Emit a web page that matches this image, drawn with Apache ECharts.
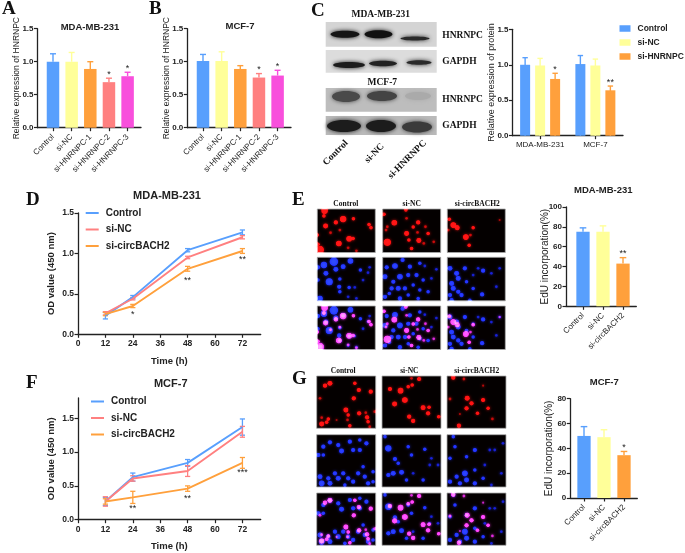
<!DOCTYPE html>
<html><head><meta charset="utf-8">
<style>html,body{margin:0;padding:0;background:#fff}#c{width:685px;height:553px}</style>
<script src="https://cdn.jsdelivr.net/npm/echarts@6/dist/echarts.min.js"></script>
</head><body><div id="c"></div>
<script>
const BLUE='#589FFD',YEL='#FFFF99',ORG='#FFA03C',SAL='#FF8080',MAG='#F84FDC',INK='#222';
const SANS='"Liberation Sans",Arial,sans-serif',SERIF='"Liberation Serif","Times New Roman",serif';

// Panel A / B
const siCats=['Control','si-NC','si-HNRNPC-1','si-HNRNPC-2','si-HNRNPC-3'];
const aVals=[1.0,1.0,0.89,0.69,0.78];
const aTops=[1.12,1.14,1.0,0.75,0.84];
const aStars=['','','','*','*'];
const bVals=[1.01,1.01,0.89,0.76,0.79];
const bTops=[1.11,1.15,0.94,0.82,0.87];
const bStars=['','','','*','*'];
// Panel C
const cCats=['MDA-MB-231','MCF-7'];
const cNames=['Control','si-NC','si-HNRNPC'];
const cControl=[1.0,1.01],cControlTop=[1.10,1.13];
const cNC=[0.99,0.99],cNCTop=[1.09,1.08];
const cSi=[0.80,0.64],cSiTop=[0.88,0.70];
const cStars=['*','**'];
// Panels D / F
const hours=[12,24,48,72];
const lineNames=['Control','si-NC','si-circBACH2'];
const dControl=[0.23,0.46,1.04,1.26],dControlErr=[0.04,0.02,0.02,0.03];
const dNC=[0.26,0.44,0.95,1.20],dNCErr=[0.02,0.015,0.015,0.02];
const dCirc=[0.25,0.35,0.81,1.03],dCircErr=[0.02,0.02,0.03,0.03];
const dStars=[['',0],['*',0.24],['**',0.67],['**',0.92]];
const fControl=[0.27,0.63,0.84,1.37],fControlErr=[0.06,0.06,0.05,0.12];
const fNC=[0.27,0.61,0.72,1.30],fNCErr=[0.07,0.04,0.08,0.08];
const fCirc=[0.27,0.33,0.46,0.84],fCircErr=[0.04,0.09,0.04,0.08];
const fStars=[['',0],['**',0.17],['**',0.32],['***',0.70]];
// Panels E / G
const eduCats=['Control','si-NC','si-circBACH2'];
const eVals=[75,75,43],eTops=[79,81,49],eStars=['','','**'];
const gVals=[50,49,34.5],gTops=[57.5,55,37.5],gStars=['','','*'];

// Fluorescent nuclei as seen in the micrographs [x, y, size], read relative to the crop
const eRed=[
 [[44,92,9],[42,108,5],[78,127,6],[100,117,9],[131,116,5],[47,138,7],[178,133,5],[184,143,5],[90,150,4],[62,158,4],[130,175,5],[118,176,8],[87,190,8],[30,209,11],[115,203,4],[140,212,4],[22,165,5],[24,192,5]],
 [[288,90,5],[222,103,5],[253,128,8],[325,127,6],[290,115,4],[232,140,4],[310,141,5],[347,140,4],[290,160,7],[323,157,4],[232,186,10],[327,181,7],[297,180,5],[342,190,4],[305,205,5],[372,185,4],[355,160,5],[228,150,4]],
 [[418,118,5],[430,135,8],[442,143,7],[490,143,5],[482,165,4],[468,171,8],[478,195,5],[415,150,4],[570,120,3]]
];
const eBlue=[
 [[42,255,9],[72,245,12],[122,243,8],[24,262,6],[48,280,7],[100,260,7],[78,268,7],[58,305,10],[152,270,5],[90,297,5],[88,320,6],[160,300,4],[118,322,5],[135,322,4],[90,335,5],[30,355,8],[115,350,4],[140,355,4],[180,262,4],[175,278,4],[24,300,5]],
 [[278,240,6],[230,262,6],[255,258,8],[300,260,6],[330,250,5],[345,258,4],[380,268,4],[225,290,7],[250,305,6],[270,290,8],[295,285,6],[320,285,6],[340,300,5],[365,295,4],[225,350,6],[245,325,6],[265,325,7],[285,325,6],[310,315,5],[330,330,5],[355,335,5],[270,355,6],[325,355,5],[295,345,5],[238,340,5]],
 [[420,265,7],[440,280,7],[465,265,6],[520,272,6],[490,285,4],[570,265,4],[425,310,7],[445,295,7],[470,305,5],[430,325,7],[445,335,6],[420,345,6],[455,345,6],[490,325,5],[517,343,6],[480,360,5],[425,360,6],[545,280,4],[560,320,4],[505,265,4]]
];
const gRed=[
 [[45,62,6],[60,55,7],[30,100,4],[108,135,7],[115,150,5],[113,165,4],[148,145,6],[172,157,6],[175,170,5],[35,177,7],[55,162,5],[50,172,5],[120,182,5],[35,158,4],[135,55,5],[147,75,6],[183,80,6],[132,100,6],[168,143,4],[195,140,4],[180,185,4],[80,165,3]],
 [[240,72,6],[272,77,8],[295,65,5],[307,60,5],[285,105,8],[254,117,7],[340,128,7],[358,127,5],[355,145,6],[298,155,6],[310,168,6],[387,155,5],[328,42,6],[305,40,4]],
 [[430,38,6],[462,42,4],[472,100,7],[485,115,6],[420,102,4],[520,105,6],[535,130,5],[470,130,6],[503,145,5],[548,162,4],[447,182,6],[450,147,3],[520,62,3]]
];
const gBlue=[
 [[40,245,6],[60,232,6],[85,240,6],[95,258,7],[120,230,6],[150,225,5],[130,255,6],[150,255,6],[170,235,6],[25,270,6],[160,305,5],[40,270,5],[30,335,7],[55,340,6],[35,355,8],[60,355,7],[85,340,7],[100,325,6],[115,340,6],[130,350,6],[145,325,6],[165,335,6],[190,320,5],[75,325,6],[175,355,6],[190,350,5],[105,360,5]],
 [[235,250,9],[255,282,6],[265,295,5],[345,253,5],[305,270,5],[295,245,5],[365,280,4],[385,300,4],[235,330,6],[250,325,7],[275,322,7],[290,345,5],[340,345,5],[360,300,4],[310,325,4],[225,215,5]],
 [[430,215,5],[470,275,5],[495,255,6],[420,280,5],[540,255,4],[555,255,4],[580,235,4],[435,245,5],[465,325,8],[470,345,7],[440,335,6],[495,315,5],[420,350,6],[450,355,6],[520,340,5],[545,360,4],[575,325,4],[495,355,6],[525,300,4]]
];

const grid=[],xAxis=[],yAxis=[],series=[],title=[],graphic=[],legend=[];

function axisCommon(){return {
  axisLine:{show:true,onZero:false,lineStyle:{color:INK,width:1.3}},
  axisTick:{show:true,length:3.5,lineStyle:{color:INK,width:1.2}},
  splitLine:{show:false}
};}
function errSeries(gi,rows,color,cap){
  series.push({type:'custom',xAxisIndex:gi,yAxisIndex:gi,silent:true,z:1,data:rows,
    renderItem(p,api){
      const x=api.value(0),a=api.coord([x,api.value(1)]),b=api.coord([x,api.value(2)]);
      const st={stroke:color,lineWidth:1.3,fill:null};
      return {type:'group',children:[
        {type:'line',shape:{x1:a[0],y1:a[1],x2:b[0],y2:b[1]},style:st},
        {type:'line',shape:{x1:a[0]-cap,y1:b[1],x2:a[0]+cap,y2:b[1]},style:st},
        {type:'line',shape:{x1:a[0]-cap,y1:a[1],x2:a[0]+cap,y2:a[1]},style:st}
      ]};
    }});
}
function starSeries(gi,rows){ // rows: [x,y,text]
  series.push({type:'custom',xAxisIndex:gi,yAxisIndex:gi,silent:true,z:5,
    data:rows.map(r=>[r[0],r[1]]),
    renderItem(p,api){
      const c=api.coord([api.value(0),api.value(1)]);
      return {type:'text',x:c[0],y:c[1],style:{text:rows[p.dataIndex][2],align:'center',verticalAlign:'middle',fontSize:9,fontFamily:SANS,fill:INK}};
    }});
}
function barPanel(o){
  const gi=grid.length;
  grid.push({left:o.left,top:o.top,width:o.right-o.left,height:o.bottom-o.top});
  const idx=o.cats.map((c,i)=>i);
  const min=-(o.first-o.left)/o.step,max=(o.right-o.first)/o.step;
  const ax=axisCommon();
  xAxis.push({...ax,gridIndex:gi,type:'value',min,max,
    axisTick:{...ax.axisTick,customValues:idx},
    axisLabel:{customValues:idx,rotate:45,margin:8,fontSize:o.catFont||8,fontFamily:SANS,color:INK,formatter:v=>o.cats[v]}});
  yAxis.push({...ax,gridIndex:gi,type:'value',min:0,max:o.max,interval:o.interval,name:o.yName,nameLocation:'middle',nameGap:o.nameGap,nameMoveOverlap:false,
    nameTextStyle:{fontSize:o.nameFont,fontFamily:SANS,color:INK},
    axisLabel:{margin:4,fontSize:8,fontWeight:'bold',fontFamily:SANS,color:INK,formatter:v=>o.max<10?v.toFixed(1):String(v)}});
  errSeries(gi,idx.map(i=>[i,o.vals[i],o.tops[i]]),null,0);
  series[series.length-1].renderItem=(p,api)=>{
    const i=p.dataIndex,x=api.value(0),a=api.coord([x,api.value(1)]),b=api.coord([x,api.value(2)]);
    const st={stroke:o.colors[i],lineWidth:1.4,fill:null};
    return {type:'group',children:[
      {type:'line',shape:{x1:a[0],y1:a[1],x2:b[0],y2:b[1]},style:st},
      {type:'line',shape:{x1:a[0]-o.cap,y1:b[1],x2:a[0]+o.cap,y2:b[1]},style:st}]};
  };
  series.push({type:'bar',xAxisIndex:gi,yAxisIndex:gi,barWidth:o.barWidth,z:2,
    data:idx.map(i=>({value:[i,o.vals[i]],itemStyle:{color:o.colors[i]}}))});
  starSeries(gi,idx.filter(i=>o.stars[i]).map(i=>[i,o.tops[i]+o.max*0.04,o.stars[i]]));
  title.push({text:o.title,left:o.titleX,top:o.titleY,padding:0,textAlign:'center',textVerticalAlign:'middle',
    textStyle:{fontSize:o.titleFont||9.5,fontWeight:'bold',fontFamily:SANS,color:INK}});
}
function linePanel(o){
  const gi=grid.length;
  grid.push({left:78,top:o.top,width:182.7,height:o.bottom-o.top});
  const ax=axisCommon();
  const xt=[0,12,24,36,48,60,72];
  xAxis.push({...ax,gridIndex:gi,type:'value',min:0,max:80,name:'Time (h)',nameLocation:'middle',nameGap:22,
    nameTextStyle:{fontSize:9.5,fontWeight:'bold',fontFamily:SANS,color:INK},
    axisTick:{...ax.axisTick,customValues:xt},
    axisLabel:{customValues:xt,margin:5,fontSize:8.5,fontWeight:'bold',fontFamily:SANS,color:INK}});
  const yt=[0,0.5,1,1.5];
  yAxis.push({...ax,gridIndex:gi,type:'value',min:0,max:o.max,name:'OD value (450 nm)',nameLocation:'middle',nameGap:22,nameMoveOverlap:false,
    nameTextStyle:{fontSize:9.5,fontWeight:'bold',fontFamily:SANS,color:INK},
    axisTick:{...ax.axisTick,customValues:yt},
    axisLabel:{customValues:yt,margin:4,fontSize:8.5,fontWeight:'bold',fontFamily:SANS,color:INK,formatter:v=>v.toFixed(1)}});
  o.sets.forEach((s,k)=>{
    errSeries(gi,hours.map((h,i)=>[h,s.v[i]-s.e[i],s.v[i]+s.e[i]]),s.c,2.6);
    series.push({type:'line',name:lineNames[k],xAxisIndex:gi,yAxisIndex:gi,z:3,symbol:'none',
      lineStyle:{color:s.c,width:1.9},itemStyle:{color:s.c},data:hours.map((h,i)=>[h,s.v[i]])});
  });
  starSeries(gi,o.stars.map((s,i)=>[hours[i],s[1],s[0]]).filter(r=>r[2]));
  title.push({text:o.title,left:o.titleX,top:o.titleY,padding:0,textAlign:'center',textVerticalAlign:'middle',
    textStyle:{fontSize:11,fontWeight:'bold',fontFamily:SANS,color:INK}});
  legend.push({orient:'vertical',left:o.legX,top:o.legY,itemWidth:13,itemHeight:2,itemGap:o.legGap,padding:0,selectedMode:false,
    textStyle:{fontSize:10,fontFamily:SANS,fontWeight:'bold',color:INK,padding:[0,0,0,2]},
    data:lineNames.map((n,k)=>({name:n,icon:'rect',itemStyle:{color:o.sets[k].c}}))});
}
barPanel({left:37.5,right:141,top:28.7,bottom:127.7,first:53,step:18.65,cats:siCats,vals:aVals,tops:aTops,stars:aStars,
  colors:[BLUE,YEL,ORG,SAL,MAG],max:1.5,interval:0.5,barWidth:12.5,cap:3,yName:'Relative expression of HNRNPC',nameGap:16,nameFont:8.5,
  title:'MDA-MB-231',titleX:90,titleY:27});
barPanel({left:187.3,right:291,top:28.7,bottom:127.7,first:203,step:18.65,cats:siCats,vals:bVals,tops:bTops,stars:bStars,
  colors:[BLUE,YEL,ORG,SAL,MAG],max:1.5,interval:0.5,barWidth:12.5,cap:3,yName:'Relative expression of HNRNPC',nameGap:16,nameFont:8.5,
  title:'MCF-7',titleX:240,titleY:26});

// Panel C bar chart
{
  const gi=grid.length,ax=axisCommon();
  grid.push({left:512.5,top:29.3,width:110.5,height:106.4});
  xAxis.push({...ax,gridIndex:gi,type:'category',data:cCats,axisTick:{...ax.axisTick,alignWithLabel:true},axisLabel:{interval:0,margin:5,fontSize:8,fontFamily:SANS,color:INK}});
  yAxis.push({...ax,gridIndex:gi,type:'value',min:0,max:1.5,interval:0.5,name:'Relative expression of protein',nameLocation:'middle',nameGap:16,nameMoveOverlap:false,
    nameTextStyle:{fontSize:9,fontFamily:SANS,color:INK},axisLabel:{margin:4,fontSize:8,fontWeight:'bold',fontFamily:SANS,color:INK,formatter:v=>v.toFixed(1)}});
  const sets=[[cControl,cControlTop,BLUE],[cNC,cNCTop,YEL],[cSi,cSiTop,ORG]];
  sets.forEach((s,k)=>{
    series.push({type:'bar',name:cNames[k],xAxisIndex:gi,yAxisIndex:gi,barWidth:10,barGap:'50%',itemStyle:{color:s[2]},z:2,data:s[0]});
    const off=(k-1)*15;
    series.push({type:'custom',xAxisIndex:gi,yAxisIndex:gi,silent:true,z:1,
      data:cCats.map((c,i)=>[i,s[1][i]]),
      renderItem(p,api){
        const a=api.coord([api.value(0),0]),b=api.coord([api.value(0),api.value(1)]),x=a[0]+off;
        const st={stroke:s[2],lineWidth:1.4,fill:null};
        const ch=[{type:'line',shape:{x1:x,y1:a[1],x2:x,y2:b[1]},style:st},
                  {type:'line',shape:{x1:x-2.7,y1:b[1],x2:x+2.7,y2:b[1]},style:st}];
        if(k===2) ch.push({type:'text',x,y:b[1]-4,style:{text:cStars[p.dataIndex],align:'center',verticalAlign:'middle',fontSize:9,fontFamily:SANS,fill:INK}});
        return {type:'group',children:ch};
      }});
  });
  legend.push({orient:'vertical',left:619.5,top:24,itemWidth:11,itemHeight:6.5,itemGap:5,padding:0,selectedMode:false,
    textStyle:{fontSize:8.5,fontFamily:SANS,fontWeight:'bold',color:INK,padding:[0,0,0,2]},
    data:cNames.map((n,k)=>({name:n,icon:'rect',itemStyle:{color:sets[k][2]}}))});
}

linePanel({top:213,bottom:334.3,max:1.5,title:'MDA-MB-231',titleX:167,titleY:196,legX:85.7,legY:208,legGap:6.5,stars:dStars,
  sets:[{v:dControl,e:dControlErr,c:BLUE},{v:dNC,e:dNCErr,c:SAL},{v:dCirc,e:dCircErr,c:ORG}]});
linePanel({top:398,bottom:519.7,max:1.8,title:'MCF-7',titleX:170.7,titleY:384,legX:91,legY:396.5,legGap:6.5,stars:fStars,
  sets:[{v:fControl,e:fControlErr,c:BLUE},{v:fNC,e:fNCErr,c:SAL},{v:fCirc,e:fCircErr,c:ORG}]});

barPanel({left:566,right:636.3,top:207,bottom:306.3,first:583,step:20,cats:eduCats,vals:eVals,tops:eTops,stars:eStars,
  colors:[BLUE,YEL,ORG],max:100,interval:20,barWidth:13.3,cap:3.3,yName:'EdU incorporation(%)',nameGap:16,nameFont:10,
  title:'MDA-MB-231',titleX:603.3,titleY:190.5});
barPanel({left:570.3,right:637.3,top:398.7,bottom:498,first:584,step:20,cats:eduCats,vals:gVals,tops:gTops,stars:gStars,
  colors:[BLUE,YEL,ORG],max:80,interval:20,barWidth:13.3,cap:3.3,yName:'EdU incorporation(%)',nameGap:16,nameFont:10,
  title:'MCF-7',titleX:604.3,titleY:382.7});

// Micrographs: hidden grids with scatter nuclei
const SPOT_SCALE=0.7;
function rel(list,ox,oy){return list.map(d=>[d[0]-ox,d[1]-oy,d[2]]);}
function microGrid(x,y,w,h,W,H,layers){
  const gi=grid.length;
  grid.push({left:x,top:y,width:w,height:h,show:true,backgroundColor:'#040000',borderColor:'#aaa',borderWidth:0.8});
  xAxis.push({gridIndex:gi,type:'value',min:0,max:W,show:false});
  yAxis.push({gridIndex:gi,type:'value',min:0,max:H,inverse:true,show:false});
  layers.forEach(l=>{
    series.push({type:'scatter',xAxisIndex:gi,yAxisIndex:gi,silent:true,blendMode:'lighter',symbolSize:d=>d[2]*SPOT_SCALE,data:l.d,
      itemStyle:{color:p=>p.value[2]>=5?l.c:l.dim,shadowBlur:3,shadowColor:l.c}});
  });
}
const RED={c:'#ff1010',dim:'#a00808'},BL={c:'#1c30ff',dim:'#1018b0'};
const eCols=[[317.3,22],[382.7,218],[447.3,412]],eRows=[209,257.3,306];
eCols.forEach((c,i)=>{
  const r=rel(eRed[i],c[1],87),b=rel(eBlue[i],c[1],232);
  microGrid(c[0],eRows[0],58,43.5,175,130,[{d:r,...RED}]);
  microGrid(c[0],eRows[1],58,43.5,175,130,[{d:b,...BL}]);
  microGrid(c[0],eRows[2],58,43.5,175,130,[{d:b.concat(r),...BL},{d:r,...RED}]);
});
const gCols=[[316.7,20],[382,216],[447,411]],gRows=[376,434.7,493];
gCols.forEach((c,i)=>{
  const r=rel(gRed[i],c[1],33),b=rel(gBlue[i],c[1],209);
  microGrid(c[0],gRows[0],59,52.3,178,157,[{d:r,...RED}]);
  microGrid(c[0],gRows[1],59,52.3,178,157,[{d:b,...BL}]);
  microGrid(c[0],gRows[2],59,52.3,178,157,[{d:b.concat(r),...BL},{d:r,...RED}]);
});

// Text helpers
function txt(t,x,y,size,opt){graphic.push({type:'text',x,y,rotation:(opt&&opt.rot)||0,z:20,
  style:{text:t,fontFamily:(opt&&opt.font)||SERIF,fontWeight:'bold',fontSize:size,fill:'#111',align:(opt&&opt.align)||'center',verticalAlign:'middle'}});}
[['A',2,9],['B',149,9],['C',311,11],['D',26,200],['E',292,200],['F',26,383],['G',292,379]].forEach(p=>txt(p[0],p[1],p[2],19,{align:'left'}));
eCols.forEach((c,i)=>txt(eduCats[i],c[0]+[28.5,29,30][i],203.7,7.5));
gCols.forEach((c,i)=>txt(eduCats[i],c[0]+[26.5,27.3,29.7][i],371,7.5));

// Western blots
const blotRows=[[22,24.7,'#d4d4d4'],[50,22.7,'#dcdcdc'],[88,23.7,'#bdbdbd'],[116,19,'#b9b9b9']];
const blotBands=[
 [[345,34.3,14.5,3.5,'#151515'],[378.5,34.3,14,4,'#111'],[415,38.5,14.5,2,'#2a2a2a']],
 [[349,65,16,3,'#1c1c1c'],[383,63.5,14,2.8,'#222'],[419,62.5,12.5,2.3,'#2a2a2a']],
 [[346,96.5,14,5.5,'#4a4a4a'],[382,96,15,5,'#444'],[418,96,13,4,'#aaa']],
 [[344,126,17,6,'#1c1c1c'],[381,126,15,6,'#1c1c1c'],[417,127,15,5.5,'#3a3a3a']]
];
blotRows.forEach((r,i)=>{
  graphic.push({type:'rect',z:1,shape:{x:325.7,y:r[0],width:111,height:r[1]},style:{fill:r[2]}});
  blotBands[i].forEach(b=>graphic.push({type:'ellipse',z:2,shape:{cx:b[0],cy:b[1],rx:b[2],ry:b[3]},style:{fill:b[4],shadowBlur:4,shadowColor:b[4]}}));
});
txt('MDA-MB-231',380.7,14.7,9.5); txt('MCF-7',382.3,82.3,9.5);
['HNRNPC','GAPDH','HNRNPC','GAPDH'].forEach((t,i)=>txt(t,442.3,[35.7,62,100,126][i],9.5,{align:'left'}));
[['Control',346.7,141.7],['si-NC',382.7,145],['si-HNRNPC',425,141.7]].forEach(p=>txt(p[0],p[1],p[2],9.5,{rot:Math.PI/4,align:'right'}));

const chart=echarts.init(document.getElementById('c'),null,{renderer:'canvas'});
chart.setOption({animation:false,backgroundColor:'#fff',title,grid,xAxis,yAxis,series,legend,graphic:{elements:graphic},tooltip:{show:false}});
</script></body></html>
